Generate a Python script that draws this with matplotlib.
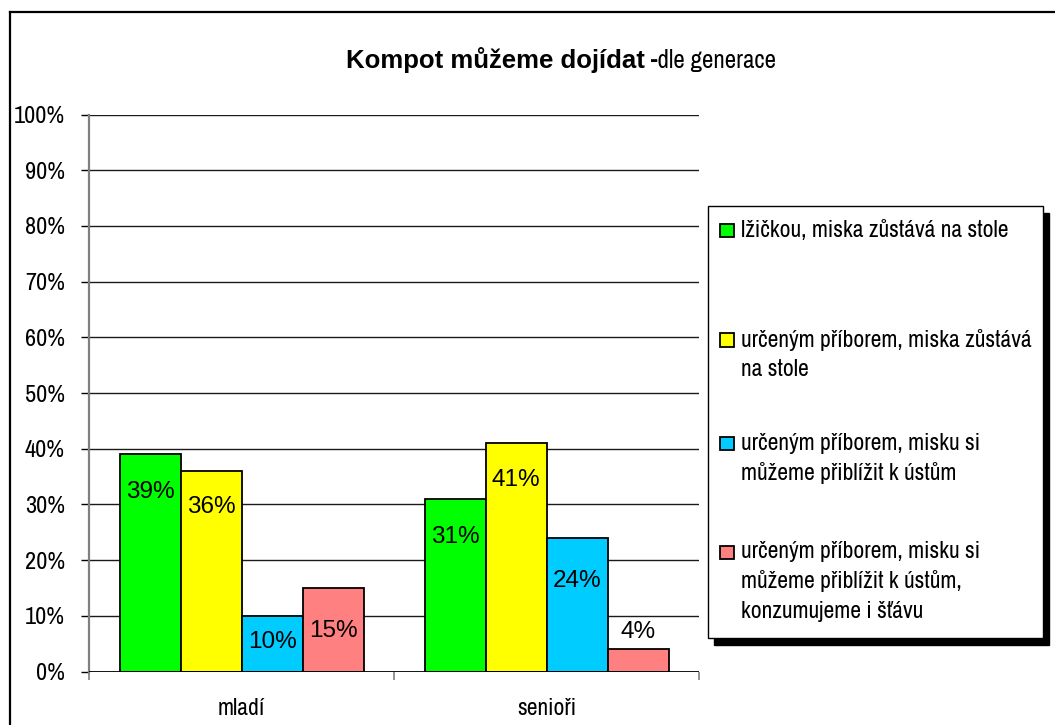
import matplotlib
matplotlib.use("Agg")
import matplotlib.pyplot as plt
from matplotlib import font_manager
from matplotlib.patches import Rectangle
from matplotlib.lines import Line2D
import numpy as np

# ---------------- data ----------------
categories = ["mladí", "senioři"]
series_names = [
    "lžičkou, miska zůstává na stole",
    "určeným příborem, miska zůstává\nna stole",
    "určeným příborem, misku si\nmůžeme přiblížit k ústům",
    "určeným příborem, misku si\nmůžeme přiblížit k ústům,\nkonzumujeme i šťávu",
]
green_vals = [39, 31]
yellow_vals = [36, 41]
blue_vals = [10, 24]
red_vals = [15, 4]
series_values = [green_vals, yellow_vals, blue_vals, red_vals]
series_colors = ["#00FF00", "#FFFF00", "#00CCFF", "#FF8080"]
y_ticks = list(range(0, 101, 10))
title_bold = "Kompot můžeme dojídat"
title_rest = " -dle generace"

# label offsets below bar top (pixels), negative = above
label_offsets_px = [[38, 36, 26, 43], [38, 37, 43, -17]]

# ---------------- fonts ----------------
names = {f.name for f in font_manager.fontManager.ttflist}
NARROW = "Liberation Sans"
for cand in ["Liberation Sans Narrow", "Arial Narrow", "Archivo Narrow", "Roboto Condensed"]:
    if cand in names:
        NARROW = cand
        break
REG = "Liberation Sans"

W, H = 1055, 725
fig = plt.figure(figsize=(W / 100, H / 100), dpi=100)
fig.patch.set_facecolor("white")


def fx(px):
    return px / W


def fy(py):
    return 1 - py / H


ax_left, ax_right, ax_top, ax_bot = 89, 699, 114.5, 671.5
ax = fig.add_axes([fx(ax_left), fy(ax_bot), fx(ax_right) - fx(ax_left), fy(ax_top) - fy(ax_bot)])
ax.set_xlim(-0.5, len(categories) - 0.5)
ax.set_ylim(0, 100)

n = len(series_values)
bw = 1.0 / (n + 1)
x = np.arange(len(categories))
for i, (vals, col) in enumerate(zip(series_values, series_colors)):
    xs = x - (n / 2) * bw + (i + 0.5) * bw
    ax.bar(xs, vals, width=bw, color=col, edgecolor="black", linewidth=1.3, zorder=3)
    for j, (xx, v) in enumerate(zip(xs, vals)):
        off = label_offsets_px[j][i]
        ax.annotate(f"{v}%", (xx, v), xytext=(0, -off * 0.72), textcoords="offset points",
                    ha="center", va="center", fontsize=17.5, family=REG, color="black", zorder=4)

# grid
for t in y_ticks[1:]:
    ax.axhline(t, color="#1a1a1a", linewidth=1.0, zorder=1)
ax.axhline(0, color="black", linewidth=1.3, zorder=5)

for s in ["top", "right", "bottom"]:
    ax.spines[s].set_visible(False)
ax.spines["left"].set_color("#808080")
ax.spines["left"].set_linewidth(1.6)

ax.set_yticks(y_ticks)
ax.set_yticklabels([f"{t}%" for t in y_ticks], family=NARROW, fontsize=17.5)
ax.tick_params(axis="y", length=5.8, width=1.0, color="black", pad=11.5, direction="out")

ax.set_xticks(np.arange(len(categories) + 1) - 0.5, minor=True)
ax.set_xticks(x)
ax.set_xticklabels(categories, family=NARROW, fontsize=17)
ax.tick_params(axis="x", which="major", length=0, pad=19)
ax.tick_params(axis="x", which="minor", length=5.8, width=1.2, color="#808080", direction="out")

# title
fig.text(fx(645), fy(68), title_bold, ha="right", va="baseline", fontsize=18.5,
         fontweight="bold", family=REG)
fig.text(fx(645), fy(68), title_rest, ha="left", va="baseline", fontsize=18,
         family=NARROW)

# outer border
fig.add_artist(Line2D([fx(10), 1.0], [fy(12), fy(12)], color="black", linewidth=1.6))
fig.add_artist(Line2D([fx(10), fx(10)], [fy(12), 0.0], color="black", linewidth=1.6))

# legend box with shadow
lx0, ly0, lx1, ly1 = 708, 206, 1043, 638
fig.add_artist(Rectangle((fx(lx0 + 6), fy(ly1 + 7)), fx(lx1) - fx(lx0), fy(ly0) - fy(ly1),
                         facecolor="black", edgecolor="black", transform=fig.transFigure))
fig.add_artist(Rectangle((fx(lx0), fy(ly1)), fx(lx1) - fx(lx0), fy(ly0) - fy(ly1),
                         facecolor="white", edgecolor="black", linewidth=1.0,
                         transform=fig.transFigure))
entry_centers = [230, 340, 443, 552]
line_gap = 29.5
for name, col, cy in zip(series_names, series_colors, entry_centers):
    fig.add_artist(Rectangle((fx(720), fy(cy + 7)), fx(13.5), 13.5 / H,
                             facecolor=col, edgecolor="black", linewidth=1.3,
                             transform=fig.transFigure))
    for k, line in enumerate(name.split("\n")):
        fig.text(fx(741), fy(cy + k * line_gap), line, ha="left", va="center",
                 fontsize=17, family=NARROW)

fig.savefig("out.png", dpi=100, facecolor="white")
